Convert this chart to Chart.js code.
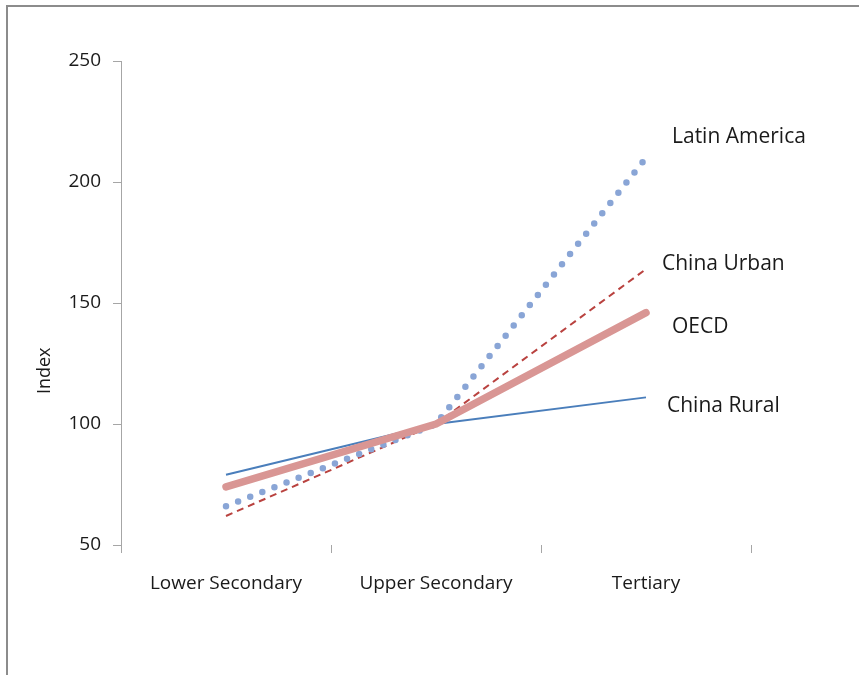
<!DOCTYPE html>
<html>
<head>
<meta charset="utf-8">
<script src="https://cdn.jsdelivr.net/npm/chart.js@4/dist/chart.umd.min.js"></script>
<style>
  html, body { margin: 0; padding: 0; background: #ffffff; overflow: hidden; }
  #wrap { position: relative; width: 859px; height: 675px; }
  #frame { position: absolute; left: 6px; top: 5px; width: 900px; height: 700px;
           border: 2px solid #8c8c8c; box-sizing: border-box; pointer-events: none; }
  canvas { position: absolute; left: 0; top: 0; }
</style>
</head>
<body>
<div id="wrap">
  <canvas id="c" width="859" height="675"></canvas>
  <div id="frame"></div>
</div>
<script>
// Education levels on the x axis
const levels = ['Lower Secondary', 'Upper Secondary', 'Tertiary'];

// Earnings index by education level (Upper Secondary = 100)
const chinaRural   = [79, 100, 111];
const chinaUrban   = [62, 100, 164];
const latinAmerica = [66, 100, 210];
const oecd         = [74, 100, 146];

const yTicks = [50, 100, 150, 200, 250];

const seriesNames = ['China Rural', 'China Urban', 'Latin America', 'OECD'];
const yTitle = 'Index';

// Where each series name sits relative to its last point
const nameOffsets = {
  'Latin America': { dx: 26, dy: -21 },
  'China Urban':   { dx: 16, dy: -5 },
  'OECD':          { dx: 26, dy: 14 },
  'China Rural':   { dx: 21, dy: 9 }
};

const FONT = "'Open Sans', sans-serif";
const AXIS_GREY = '#a6a6a6';

const endLabels = {
  id: 'endLabels',
  afterDatasetsDraw(chart) {
    const ctx = chart.ctx;
    ctx.save();
    ctx.font = "21px " + FONT;
    ctx.fillStyle = '#1a1a1a';
    ctx.textAlign = 'left';
    ctx.textBaseline = 'middle';
    chart.data.datasets.forEach((ds, i) => {
      const meta = chart.getDatasetMeta(i);
      const last = meta.data[meta.data.length - 1];
      const off = nameOffsets[ds.label];
      ctx.fillText(ds.label, last.x + off.dx, last.y + off.dy);
    });
    ctx.restore();
  }
};

// Rotated y-axis title, sitting a little below the middle of the axis
const axisTitle = {
  id: 'axisTitle',
  afterDraw(chart) {
    const ctx = chart.ctx;
    const y = chart.scales.y;
    ctx.save();
    ctx.font = "18px " + FONT;
    ctx.fillStyle = '#1a1a1a';
    ctx.textAlign = 'center';
    ctx.textBaseline = 'middle';
    ctx.translate(45, y.getPixelForValue(122));
    ctx.rotate(-Math.PI / 2);
    ctx.fillText(yTitle, 0, 0);
    ctx.restore();
  }
};

new Chart(document.getElementById('c'), {
  type: 'line',
  data: {
    labels: levels,
    datasets: [
      {
        label: seriesNames[3], data: oecd, order: 0,
        borderColor: '#d99694', borderWidth: 7.5, borderCapStyle: 'round',
        borderJoinStyle: 'round', pointRadius: 0, tension: 0
      },
      {
        label: seriesNames[2], data: latinAmerica, order: 1,
        borderColor: '#89a5d6', borderWidth: 6.5, borderCapStyle: 'round',
        borderDash: [0, 13], pointRadius: 0, tension: 0
      },
      {
        label: seriesNames[1], data: chinaUrban, order: 2,
        borderColor: '#b9423f', borderWidth: 2, borderDash: [7, 5],
        pointRadius: 0, tension: 0
      },
      {
        label: seriesNames[0], data: chinaRural, order: 3,
        borderColor: '#4a7ebb', borderWidth: 2, pointRadius: 0, tension: 0
      }
    ]
  },
  options: {
    responsive: false,
    animation: false,
    events: [],
    layout: { padding: { left: 0, top: 61, right: 108, bottom: 0 } },
    plugins: { legend: { display: false }, tooltip: { enabled: false } },
    scales: {
      x: {
        type: 'category',
        offset: true,
        grid: { display: true, offset: true, drawOnChartArea: false, drawTicks: true,
                tickLength: 8, color: AXIS_GREY, lineWidth: 1 },
        border: { display: false },
        ticks: { color: '#1a1a1a', font: { family: FONT, size: 19 }, padding: 19,
                 maxRotation: 0, autoSkip: false },
        afterFit(s) { s.height = 130; }
      },
      y: {
        min: 50, max: 250,
        afterBuildTicks(s) { s.ticks = yTicks.map(v => ({ value: v })); },
        grid: { display: true, drawOnChartArea: false, drawTicks: true,
                tickLength: 8, color: AXIS_GREY, lineWidth: 1 },
        border: { display: true, color: AXIS_GREY, width: 1 },
        ticks: { color: '#1a1a1a', font: { family: FONT, size: 19 }, padding: 12 },
        title: { display: false },
        afterFit(s) { s.width = 121; }
      }
    }
  },
  plugins: [endLabels, axisTitle]
});
</script>
</body>
</html>
